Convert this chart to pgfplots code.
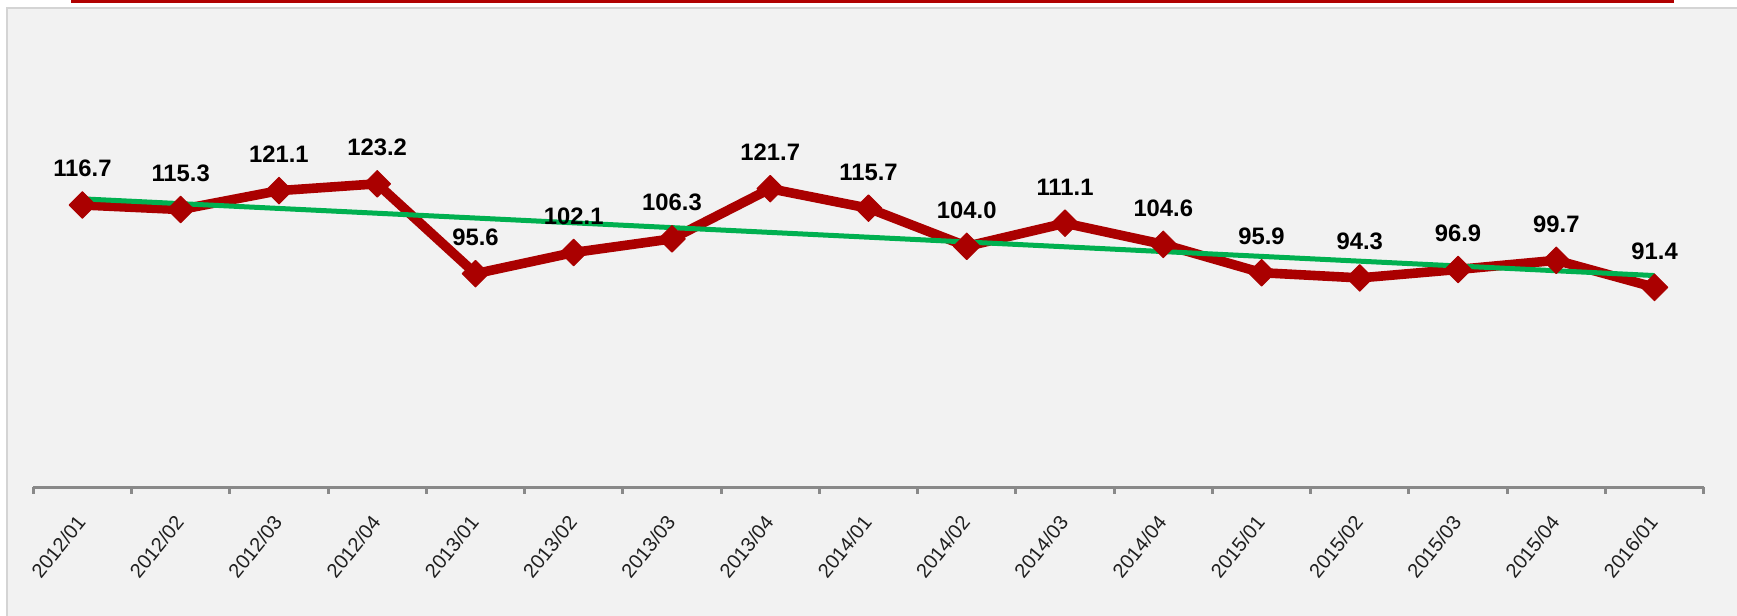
\documentclass[border=0pt]{standalone}
\usepackage{fontspec}
\setmainfont{Liberation Sans}
\usepackage{pgfplots}
\usepackage{pgfplotstable}
\pgfplotsset{compat=1.18}
\definecolor{darkred}{RGB}{170,0,0}
\definecolor{topred}{RGB}{176,0,0}
\definecolor{trend}{RGB}{0,176,80}
\definecolor{axisgray}{RGB}{137,137,137}
\definecolor{framegray}{RGB}{212,212,212}
\definecolor{bg}{RGB}{242,242,242}

\pgfplotstableread{
x y label
0 116.7 116.7
1 115.3 115.3
2 121.1 121.1
3 123.2 123.2
4 95.6 95.6
5 102.1 102.1
6 106.3 106.3
7 121.7 121.7
8 115.7 115.7
9 104.0 104.0
10 111.1 111.1
11 104.6 104.6
12 95.9 95.9
13 94.3 94.3
14 96.9 96.9
15 99.7 99.7
16 91.4 91.4
}\data

\begin{document}
\begin{tikzpicture}
\useasboundingbox (0,0) rectangle (868.5bp,308bp);
\fill[white] (0,0) rectangle (868.5bp,308bp);
\fill[bg] (3.5bp,0) rectangle (868.5bp,304bp);
\draw[framegray, line width=1bp] (3.5bp,0) -- (3.5bp,304bp) -- (868.5bp,304bp);
\fill[topred] (35.5bp,306.7bp) rectangle (837bp,308bp);
\begin{axis}[
  at={(16.65bp,64.35bp)}, anchor=south west,
  scale only axis, width=835.2bp, height=179.1bp,
  xmin=-0.5, xmax=16.5, ymin=30, ymax=140,
  axis x line*=bottom, axis y line=none, ytick=\empty,
  clip=false,
  xtick={0,...,16},
  xticklabels={2012/01,2012/02,2012/03,2012/04,2013/01,2013/02,2013/03,2013/04,2014/01,2014/02,2014/03,2014/04,2015/01,2015/02,2015/03,2015/04,2016/01},
  minor xtick={-0.5,0.5,...,16.5},
  xtick align=outside,
  major tick length=0pt,
  minor tick length=3.3bp,
  x axis line style={axisgray, line width=1.5bp},
  minor tick style={axisgray, line width=1.5bp},
  major tick style={draw=none},
  xticklabel style={xshift=-0.5bp, yshift=-15.5bp, rotate=51, anchor=east, inner sep=0pt, font=\fontsize{10bp}{12bp}\selectfont, text=black!88},
]
\addplot[darkred, line width=4.8bp, line join=round, mark=square*, mark size=4.7bp,
  mark options={rotate=45, solid, fill=darkred, draw=darkred, line width=0.5bp},
  point meta=explicit symbolic, nodes near coords,
  every node near coord/.append style={font=\fontsize{11.9bp}{14bp}\selectfont\bfseries, text=black, anchor=base, inner sep=0pt, yshift=14bp}]
  table[x=x, y=y, meta=label] {\data};
\addplot[trend, line width=2.5bp, no marks] table[x=x, y={create col/linear regression={y=y}}] {\data};
\end{axis}
\end{tikzpicture}
\end{document}
